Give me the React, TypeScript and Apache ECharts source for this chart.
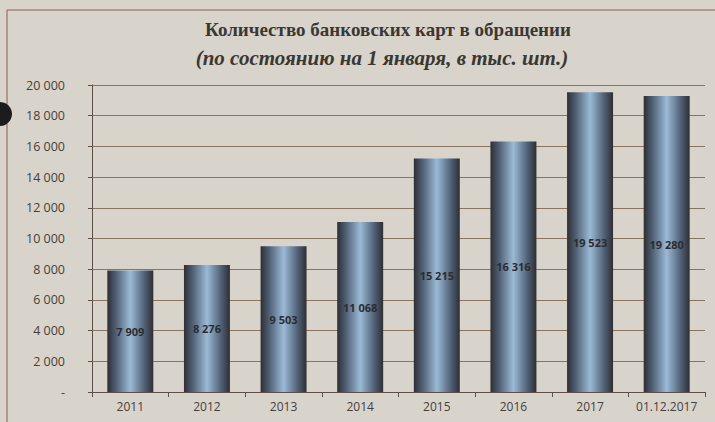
import React, { useEffect, useRef } from "react";
import * as echarts from "echarts";

const categories = ["2011", "2012", "2013", "2014", "2015", "2016", "2017", "01.12.2017"];
const values = [7909, 8276, 9503, 11068, 15215, 16316, 19523, 19280];
const titleText = "Количество банковских карт в обращении";
const subtitleText = "(по состоянию на 1 января, в тыс. шт.)";

const fmt = (v: number) => {
  if (v === 0) return "-";
  return String(v).replace(/\B(?=(\d{3})+(?!\d))/g, " ");
};

export default function App() {
  const ref = useRef<HTMLDivElement>(null);
  useEffect(() => {
    if (!ref.current) return;
    const chart = echarts.init(ref.current, undefined, { renderer: "svg" });
    const barColor = new echarts.graphic.LinearGradient(0, 0, 1, 0, [
      { offset: 0, color: "#2f2e33" },
      { offset: 0.18, color: "#4d5d72" },
      { offset: 0.5, color: "#9bbad6" },
      { offset: 0.82, color: "#4d5d72" },
      { offset: 1, color: "#2f2e33" },
    ]);
    chart.setOption({
      animation: false,
      backgroundColor: "#d8d4cb",
      title: [
        {
          text: titleText,
          left: 383,
          top: 15,
          textAlign: "center",
          textStyle: {
            fontFamily: "Liberation Serif",
            fontWeight: "bold",
            fontSize: 19,
            color: "#3b3733",
          },
        },
        {
          text: subtitleText,
          left: 377,
          top: 42,
          textAlign: "center",
          textStyle: {
            fontFamily: "Liberation Serif",
            fontWeight: "bold",
            fontStyle: "italic",
            fontSize: 21,
            color: "#3b3733",
          },
        },
      ],
      graphic: [
        {
          type: "polyline",
          shape: { points: [[7, 422], [7, 10], [715, 10]] },
          style: { stroke: "#8a5a55", lineWidth: 1, fill: "none" },
          silent: true,
        },
        {
          type: "circle",
          shape: { cx: 0, cy: 114, r: 12 },
          style: { fill: "#1c1c1e" },
          silent: true,
        },
      ],
      grid: { left: 92, right: 10, top: 85, bottom: 30 },
      xAxis: {
        type: "category",
        data: categories,
        axisLine: { lineStyle: { color: "#5e5048", width: 1 } },
        axisTick: { show: true, alignWithLabel: false, interval: 0, lineStyle: { color: "#5e5048" } },
        axisLabel: {
          interval: 0,
          color: "#45403c",
          fontSize: 12,
          fontFamily: "Open Sans",
          margin: 8,
        },
      },
      yAxis: {
        type: "value",
        min: 0,
        max: 20000,
        interval: 2000,
        axisLine: { show: true, lineStyle: { color: "#5e5048", width: 1 } },
        axisTick: { show: true, length: 4, lineStyle: { color: "#5e5048" } },
        splitLine: { lineStyle: { color: "#8a7460", width: 1 } },
        axisLabel: {
          formatter: (v: number) => fmt(v),
          color: "#45403c",
          fontSize: 12.5,
          fontFamily: "Open Sans",
          margin: 27,
        },
      },
      series: [
        {
          type: "bar",
          data: values,
          barWidth: "60%",
          itemStyle: { color: barColor },
          label: {
            show: true,
            position: "inside",
            formatter: (p: any) => fmt(p.value),
            color: "#2c2c30",
            fontSize: 11,
            fontWeight: "bold",
            fontFamily: "Open Sans",
          },
        },
      ],
    });
    return () => chart.dispose();
  }, []);
  return <div ref={ref} style={{ width: 715, height: 422, position: "fixed", left: 0, top: 0 }} />;
}
